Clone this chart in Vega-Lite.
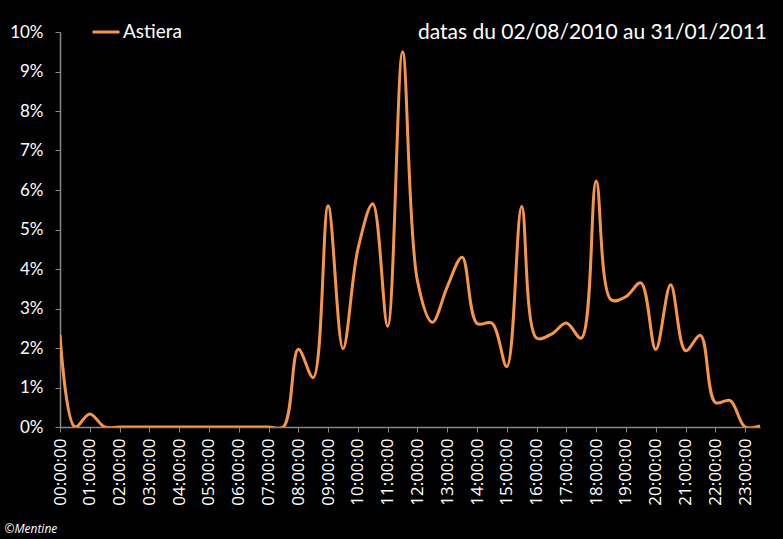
{
  "$schema": "https://vega.github.io/schema/vega-lite/v6.json",
  "autosize": {"type": "none"},
  "width": 700,
  "height": 395,
  "padding": {"left": 60, "top": 32, "right": 23, "bottom": 112},
  "background": "black",
  "title": {
    "text": "datas du 02/08/2010 au 31/01/2011",
    "anchor": "end",
    "frame": "group",
    "orient": "top",
    "baseline": "alphabetic",
    "offset": 0,
    "dy": 43,
    "dx": 7,
    "font": "Lato",
    "fontSize": 21,
    "fontWeight": "normal",
    "color": "white"
  },
  "data": {
    "values": [
      {"t": 0, "v": 0.0233, "s": "Astiera"},
      {"t": 0.5, "v": 0, "s": "Astiera"},
      {"t": 1, "v": 0.0033, "s": "Astiera"},
      {"t": 1.5, "v": 0, "s": "Astiera"},
      {"t": 2, "v": 0, "s": "Astiera"},
      {"t": 2.5, "v": 0, "s": "Astiera"},
      {"t": 3, "v": 0, "s": "Astiera"},
      {"t": 3.5, "v": 0, "s": "Astiera"},
      {"t": 4, "v": 0, "s": "Astiera"},
      {"t": 4.5, "v": 0, "s": "Astiera"},
      {"t": 5, "v": 0, "s": "Astiera"},
      {"t": 5.5, "v": 0, "s": "Astiera"},
      {"t": 6, "v": 0, "s": "Astiera"},
      {"t": 6.5, "v": 0, "s": "Astiera"},
      {"t": 7, "v": 0, "s": "Astiera"},
      {"t": 7.5, "v": 0, "s": "Astiera"},
      {"t": 8, "v": 0.0197, "s": "Astiera"},
      {"t": 8.5, "v": 0.0125, "s": "Astiera"},
      {"t": 9, "v": 0.056, "s": "Astiera"},
      {"t": 9.5, "v": 0.0198, "s": "Astiera"},
      {"t": 10, "v": 0.045, "s": "Astiera"},
      {"t": 10.5, "v": 0.0565, "s": "Astiera"},
      {"t": 11, "v": 0.0255, "s": "Astiera"},
      {"t": 11.5, "v": 0.095, "s": "Astiera"},
      {"t": 12, "v": 0.037, "s": "Astiera"},
      {"t": 12.5, "v": 0.0265, "s": "Astiera"},
      {"t": 13, "v": 0.0355, "s": "Astiera"},
      {"t": 13.5, "v": 0.043, "s": "Astiera"},
      {"t": 14, "v": 0.0262, "s": "Astiera"},
      {"t": 14.5, "v": 0.0263, "s": "Astiera"},
      {"t": 15, "v": 0.0153, "s": "Astiera"},
      {"t": 15.5, "v": 0.0558, "s": "Astiera"},
      {"t": 16, "v": 0.0225, "s": "Astiera"},
      {"t": 16.5, "v": 0.0235, "s": "Astiera"},
      {"t": 17, "v": 0.0263, "s": "Astiera"},
      {"t": 17.5, "v": 0.0225, "s": "Astiera"},
      {"t": 18, "v": 0.0623, "s": "Astiera"},
      {"t": 18.5, "v": 0.0322, "s": "Astiera"},
      {"t": 19, "v": 0.033, "s": "Astiera"},
      {"t": 19.5, "v": 0.0365, "s": "Astiera"},
      {"t": 20, "v": 0.0196, "s": "Astiera"},
      {"t": 20.5, "v": 0.036, "s": "Astiera"},
      {"t": 21, "v": 0.0193, "s": "Astiera"},
      {"t": 21.5, "v": 0.0232, "s": "Astiera"},
      {"t": 22, "v": 0.0062, "s": "Astiera"},
      {"t": 22.5, "v": 0.0067, "s": "Astiera"},
      {"t": 23, "v": 0, "s": "Astiera"},
      {"t": 23.5, "v": 0.0003, "s": "Astiera"}
    ]
  },
  "mark": {"type": "line", "interpolate": "catmull-rom", "strokeWidth": 3, "clip": true},
  "encoding": {
    "x": {
      "field": "t",
      "type": "quantitative",
      "scale": {"domain": [0, 23.5], "nice": false, "zero": false},
      "axis": {
        "values": [0,1,2,3,4,5,6,7,8,9,10,11,12,13,14,15,16,17,18,19,20,21,22,23],
        "labelExpr": "(datum.value < 10 ? '0' : '') + datum.value + ':00:00'",
        "labelAngle": 270,
        "labelAlign": "right",
        "labelBaseline": "middle",
        "labelPadding": 6,
        "labelFontSize": 17,
        "labelFont": "Open Sans",
        "labelColor": "white",
        "labelOverlap": false,
        "tickSize": 5,
        "tickColor": "#888888",
        "domainColor": "#888888",
        "domainWidth": 1.5,
        "grid": false,
        "title": "©Mentine",
        "titleFont": "Open Sans",
        "titleFontSize": 12,
        "titleFontStyle": "italic",
        "titleFontWeight": "normal",
        "titleColor": "white",
        "titleAnchor": "start",
        "titleAlign": "left",
        "titleBaseline": "alphabetic",
        "titleX": -56,
        "titleY": 105
      }
    },
    "y": {
      "field": "v",
      "type": "quantitative",
      "scale": {"domain": [0, 0.1], "nice": false},
      "axis": {
        "values": [0, 0.01, 0.02, 0.03, 0.04, 0.05, 0.06, 0.07, 0.08, 0.09, 0.1],
        "format": ".0%",
        "labelFontSize": 17,
        "labelFont": "Lato",
        "labelColor": "white",
        "labelPadding": 12,
        "tickSize": 5,
        "tickColor": "#888888",
        "domainColor": "#888888",
        "domainWidth": 1.5,
        "grid": false,
        "title": null
      }
    },
    "color": {
      "field": "s",
      "type": "nominal",
      "scale": {"range": ["#F79646"]},
      "legend": {
        "title": null,
        "orient": "none",
        "legendX": 31,
        "legendY": -15,
        "symbolType": "stroke",
        "symbolSize": 729,
        "symbolStrokeWidth": 3,
        "labelFont": "Lato",
        "labelFontSize": 19,
        "labelColor": "white",
        "labelOffset": 2,
        "padding": 0
      }
    }
  },
  "config": {
    "view": {"stroke": null}
  }
}
